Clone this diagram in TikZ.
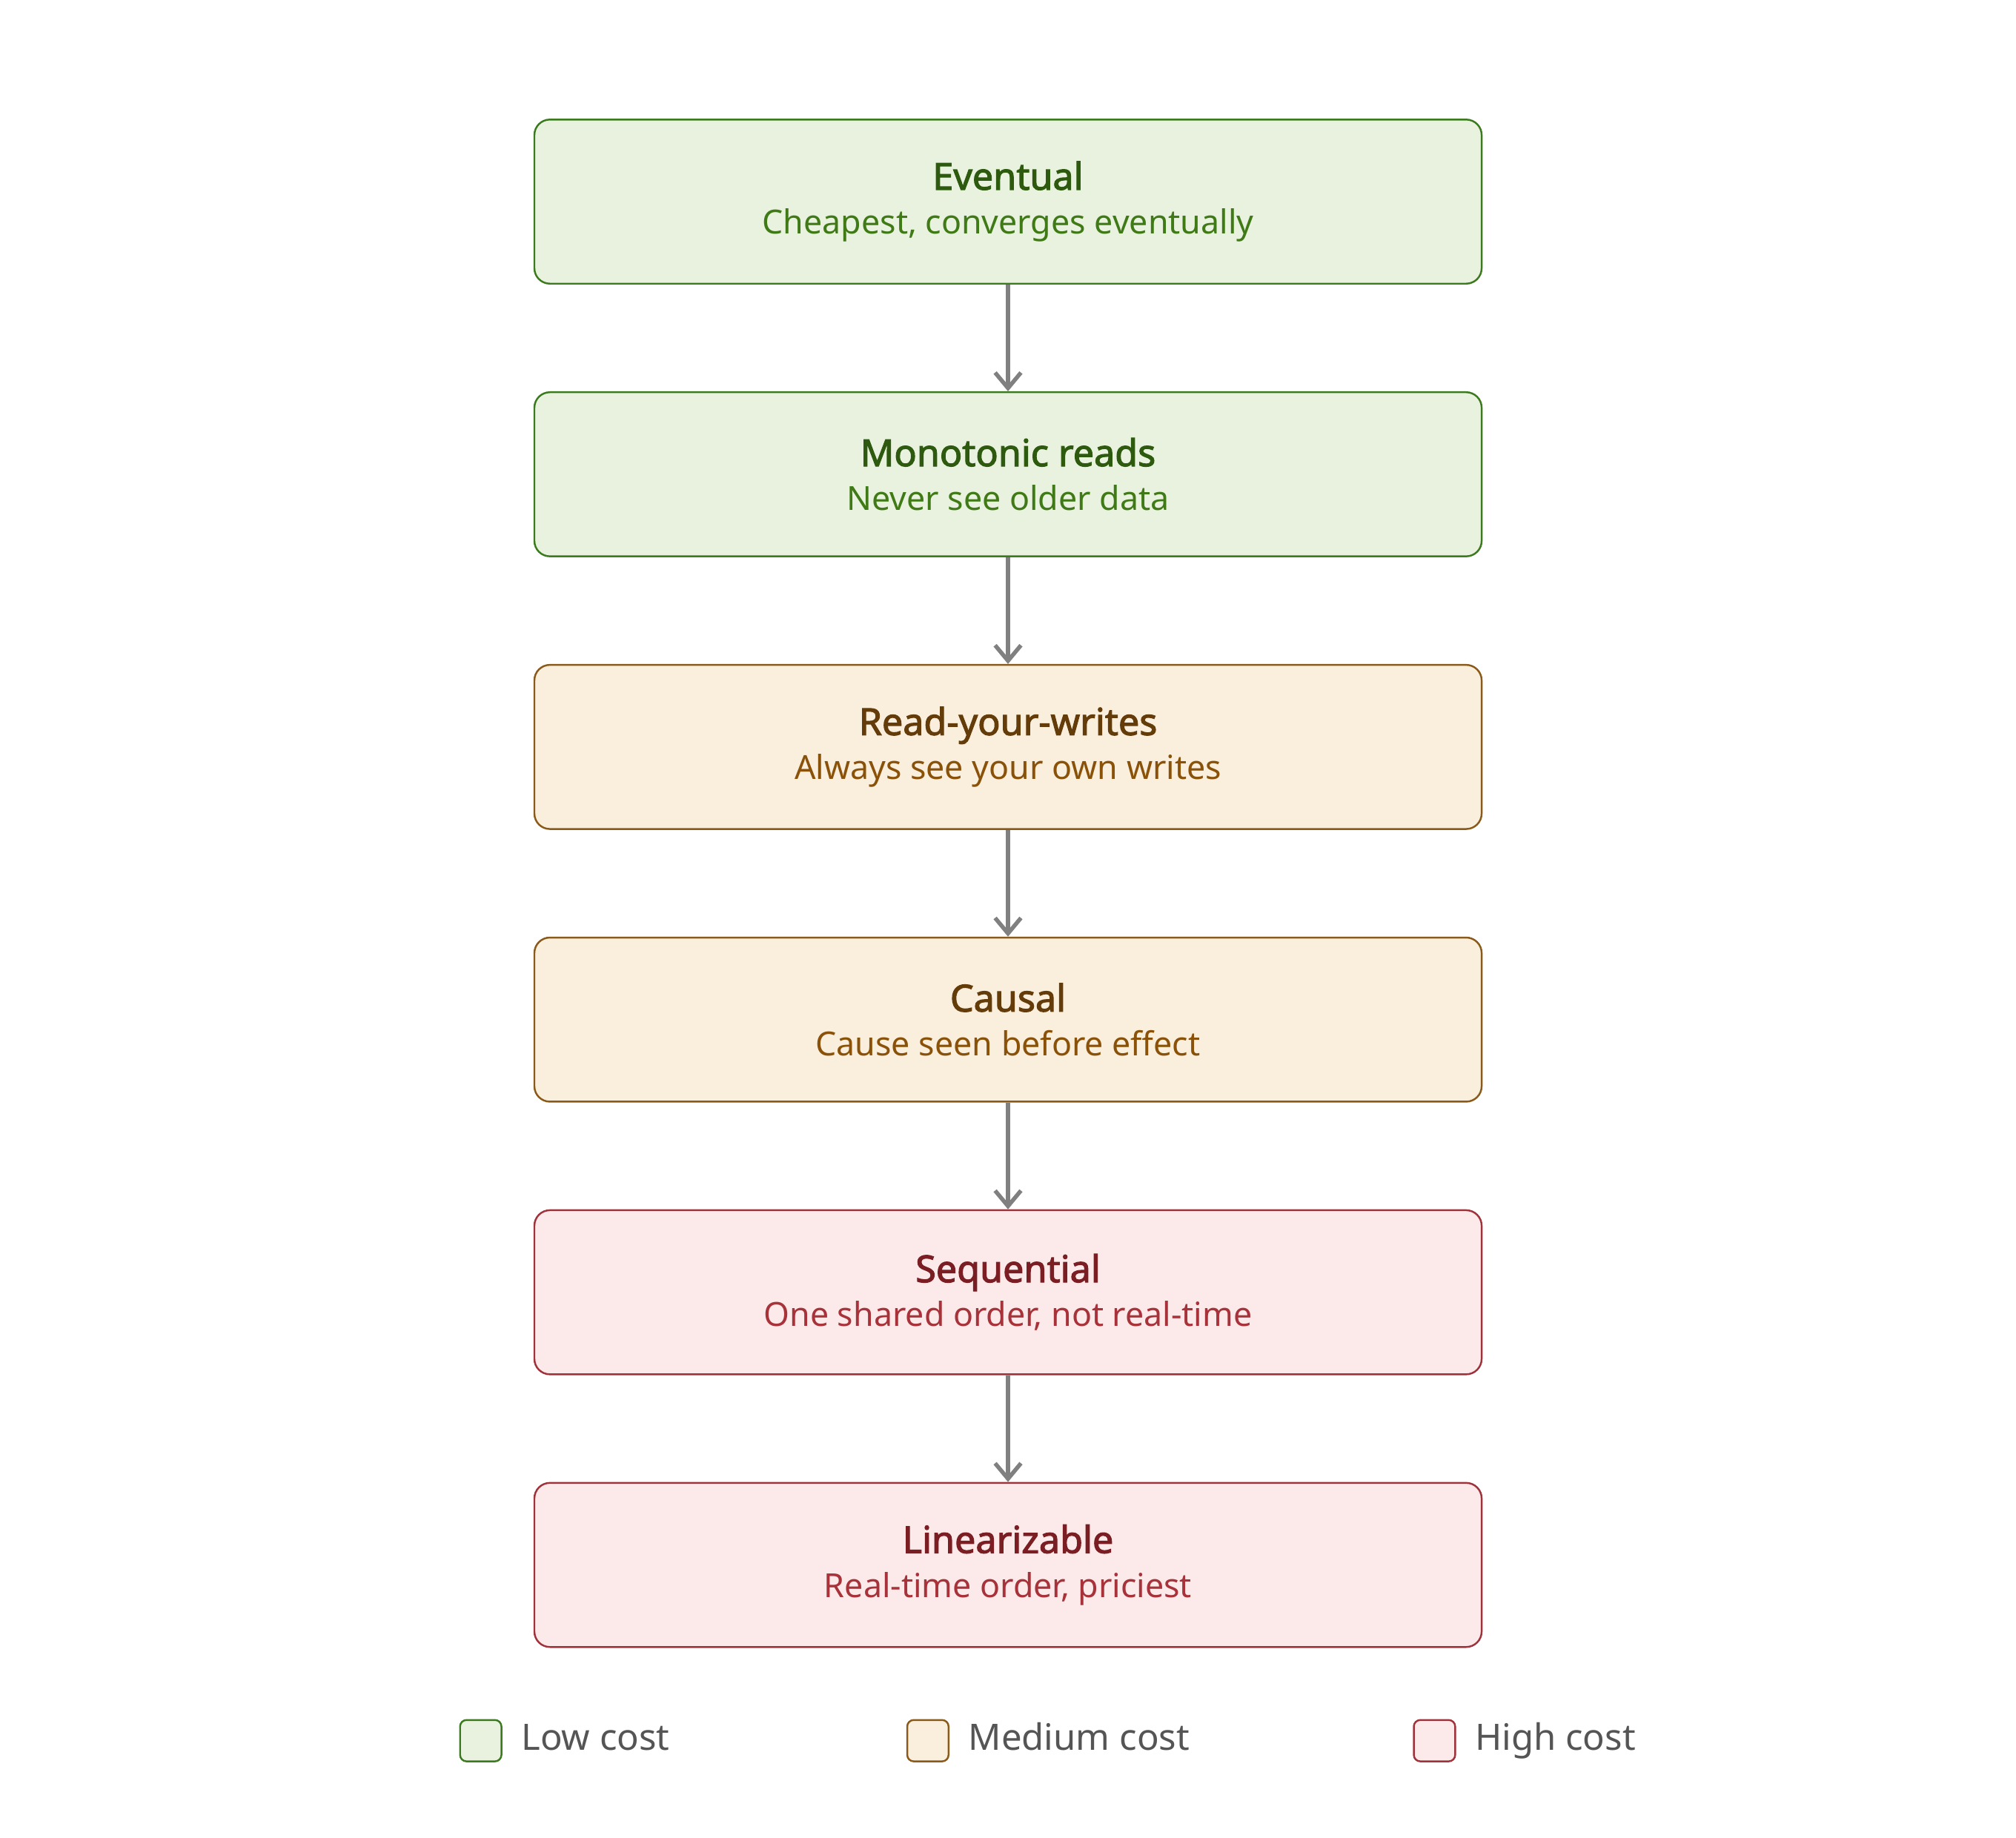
\documentclass[tikz,border=0pt]{standalone}
\usepackage{fontspec}
\setmainfont{Noto Sans}[AutoFakeBold=2.2]
\usetikzlibrary{positioning, arrows.meta}
\definecolor{LowFill}{HTML}{E8F2DE}
\definecolor{LowDraw}{HTML}{3B7A1E}
\definecolor{LowTitle}{HTML}{2D5A0E}
\definecolor{LowSub}{HTML}{3F7A16}
\definecolor{MedFill}{HTML}{FAEEDD}
\definecolor{MedDraw}{HTML}{8A5A1A}
\definecolor{MedTitle}{HTML}{633C0A}
\definecolor{MedSub}{HTML}{8A5208}
\definecolor{HighFill}{HTML}{FCEAEA}
\definecolor{HighDraw}{HTML}{A0323C}
\definecolor{HighTitle}{HTML}{7A1E24}
\definecolor{HighSub}{HTML}{A8323A}
\definecolor{ArrowGray}{HTML}{808080}
\definecolor{LegendText}{HTML}{555555}
\tikzset{
  level/.style={draw=#1Draw, fill=#1Fill, rounded corners=0.12cm, line width=0.4pt,
    minimum width=7.33cm, minimum height=1.27cm, align=center},
  nextlevel/.style={-{Straight Barb[length=0.12cm, width=0.2cm]}, line width=0.9pt, ArrowGray},
  swatch/.style={draw=#1Draw, fill=#1Fill, rounded corners=0.05cm, line width=0.4pt,
    minimum size=0.32cm, inner sep=0pt},
  legend/.style={inner sep=0pt, text height=0.2cm, text depth=0.05cm,
    font=\fontsize{8}{10}\selectfont, text=LegendText}
}
\newcommand{\lvl}[3]{{\fontsize{8.2}{11}\selectfont\bfseries\color{#1Title}#2}\\[-0.08cm]{\fontsize{7.3}{9}\selectfont\color{#1Sub}#3}}
\begin{document}
\begin{tikzpicture}
  \useasboundingbox (0,0) rectangle (15.6,-14.22);
  % Consistency levels
  \node[level=Low] (eventual) at (7.80,-1.56) {\lvl{Low}{Eventual}{Cheapest, converges eventually}};
  \node[level=Low] (monotonic) at (7.80,-3.67) {\lvl{Low}{Monotonic reads}{Never see older data}};
  \node[level=Med] (ryw) at (7.80,-5.78) {\lvl{Med}{Read-your-writes}{Always see your own writes}};
  \node[level=Med] (causal) at (7.80,-7.89) {\lvl{Med}{Causal}{Cause seen before effect}};
  \node[level=High] (sequential) at (7.80,-10.00) {\lvl{High}{Sequential}{One shared order, not real-time}};
  \node[level=High] (linear) at (7.80,-12.11) {\lvl{High}{Linearizable}{Real-time order, priciest}};

  % Arrows
  \draw[nextlevel] (eventual) -- (monotonic);
  \draw[nextlevel] (monotonic) -- (ryw);
  \draw[nextlevel] (ryw) -- (causal);
  \draw[nextlevel] (causal) -- (sequential);
  \draw[nextlevel] (sequential) -- (linear);

  % Legend
  \node[swatch=Low] (lowbox) at (3.72,-13.47) {};
  \node[legend, right=0.14cm of lowbox] (lowtxt) {Low cost};
  \node[swatch=Med] (medbox) at (7.18,-13.47) {};
  \node[legend, right=0.14cm of medbox] (medtxt) {Medium cost};
  \node[swatch=High] (highbox) at (11.10,-13.47) {};
  \node[legend, right=0.14cm of highbox] (hightxt) {High cost};
\end{tikzpicture}
\end{document}
